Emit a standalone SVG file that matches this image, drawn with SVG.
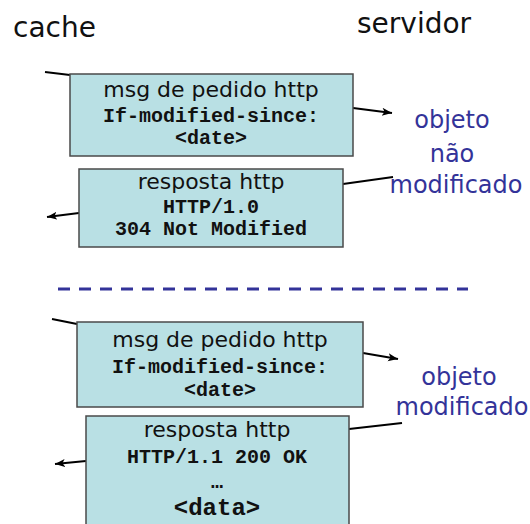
<svg xmlns="http://www.w3.org/2000/svg" width="530" height="524" viewBox="0 0 530 524">
<style>
.box{fill:#b9e0e4;stroke:#4a4a4a;stroke-width:1.5}
.hd{font-family:"DejaVu Sans",sans-serif;font-size:28px;fill:#111}
.t{font-family:"DejaVu Sans",sans-serif;font-size:22px;fill:#111;text-anchor:middle}
.m{font-family:"Liberation Mono","Courier New",monospace;font-weight:bold;font-size:20px;fill:#111;text-anchor:middle}
.b{font-family:"DejaVu Sans",sans-serif;font-size:24px;fill:#333399;text-anchor:middle}
.c{stroke:#000;stroke-width:2;fill:none}
.a{marker-end:url(#ah)}
</style>
<defs>
<marker id="ah" markerUnits="userSpaceOnUse" markerWidth="12" markerHeight="10" refX="10" refY="4" orient="auto">
<path d="M0,0 L10,4 L0,8 L2.5,4 z" fill="#000"/>
</marker>
</defs>
<text class="hd" x="13" y="37">cache</text>
<text class="hd" x="357" y="33">servidor</text>
<g id="connectors">
<line class="c" x1="45" y1="72" x2="70" y2="75"/>
<line class="c a" x1="353" y1="108" x2="392" y2="113"/>
<line class="c" x1="393" y1="177" x2="343" y2="184"/>
<line class="c a" x1="79" y1="213" x2="47" y2="217"/>
<line class="c" x1="52" y1="319" x2="77" y2="324"/>
<line class="c a" x1="363" y1="353" x2="398" y2="359"/>
<line class="c" x1="402" y1="423" x2="349" y2="429"/>
<line class="c a" x1="86" y1="461" x2="55" y2="464"/>
</g>
<g id="req1">
<rect class="box" x="70" y="74" width="283" height="82"/>
<text class="t" x="211" y="97">msg de pedido http</text>
<text class="m" x="211" y="122">If-modified-since:</text>
<text class="m" x="211" y="144">&lt;date&gt;</text>
</g>
<g id="resp1">
<rect class="box" x="79" y="169" width="264" height="78"/>
<text class="t" x="211" y="189">resposta http</text>
<text class="m" x="211" y="213">HTTP/1.0</text>
<text class="m" x="211" y="235">304 Not Modified</text>
</g>
<g id="obj1">
<text class="b" x="452" y="128">objeto</text>
<text class="b" x="452" y="162">não</text>
<text class="b" x="456" y="193">modificado</text>
</g>
<g id="sep">
<line x1="58" y1="289" x2="468" y2="289" stroke="#333399" stroke-width="3" stroke-dasharray="12 9"/>
</g>
<g id="req2">
<rect class="box" x="77" y="322" width="286" height="85"/>
<text class="t" x="220" y="347">msg de pedido http</text>
<text class="m" x="220" y="373">If-modified-since:</text>
<text class="m" x="220" y="396">&lt;date&gt;</text>
</g>
<g id="resp2">
<rect class="box" x="86" y="416" width="263" height="120"/>
<text class="t" x="217" y="437">resposta http</text>
<text class="m" x="217" y="463">HTTP/1.1 200 OK</text>
<text class="m" x="217" y="488">…</text>
<text class="m" x="217" y="515" style="font-size:24px">&lt;data&gt;</text>
</g>
<g id="obj2">
<text class="b" x="459" y="385">objeto</text>
<text class="b" x="462" y="415">modificado</text>
</g>
</svg>
